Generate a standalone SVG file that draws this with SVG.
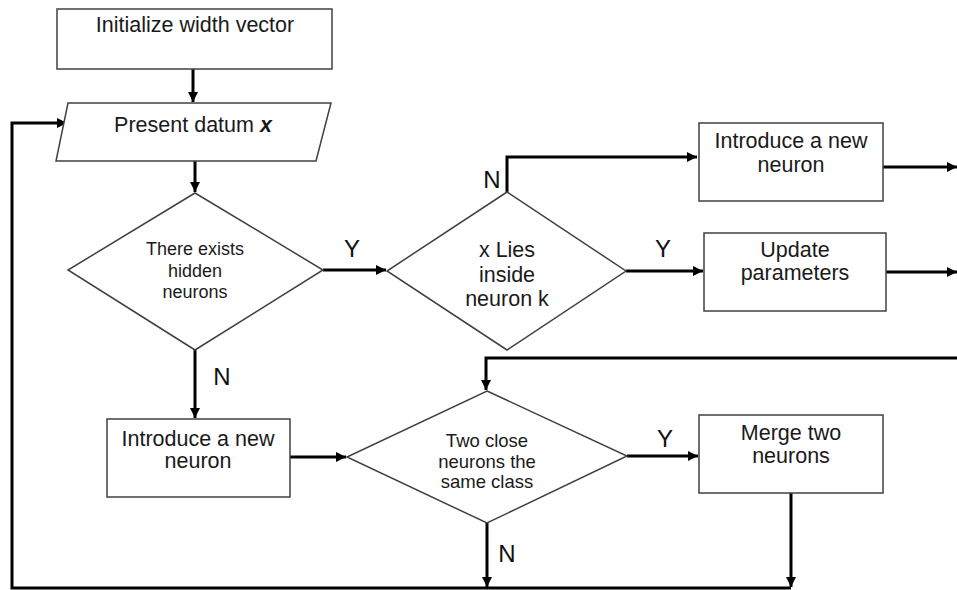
<svg xmlns="http://www.w3.org/2000/svg" width="957" height="590" viewBox="0 0 957 590">
  <style>
    .shape { fill: #ffffff; stroke: #404040; stroke-width: 1.5; }
    .txt { font-family: "Liberation Sans", Arial, sans-serif; fill: #1a1a1a; text-anchor: middle; }
    .box { font-size: 21.5px; }
    .dia1 { font-size: 18px; }
    .dia3 { font-size: 18.5px; }
    .lbl { font-family: "Liberation Sans", Arial, sans-serif; font-size: 24px; fill: #111; text-anchor: middle; }
    .conn { fill: none; stroke: #000; stroke-width: 3; }
  </style>
  <defs>
    <marker id="arrow" viewBox="0 0 10 10" refX="10" refY="5" markerWidth="11" markerHeight="10" markerUnits="userSpaceOnUse" orient="auto">
      <path d="M0,0 L10,5 L0,10 z" fill="#000"/>
    </marker>
  </defs>
  <rect width="957" height="590" fill="#ffffff"/>

  <g id="connectors">
    <path class="conn" d="M193,69 V102" marker-end="url(#arrow)"/>
    <path class="conn" d="M195,161 V192" marker-end="url(#arrow)"/>
    <path class="conn" d="M323,270 H386" marker-end="url(#arrow)"/>
    <path class="conn" d="M507,192 V157 H697" marker-end="url(#arrow)"/>
    <path class="conn" d="M626,271 H703" marker-end="url(#arrow)"/>
    <path class="conn" d="M883,167 H957" marker-end="url(#arrow)"/>
    <path class="conn" d="M886,272 H957" marker-end="url(#arrow)"/>
    <path class="conn" d="M957,358 H486 V390" marker-end="url(#arrow)"/>
    <path class="conn" d="M195,350 V418" marker-end="url(#arrow)"/>
    <path class="conn" d="M290,457 H346" marker-end="url(#arrow)"/>
    <path class="conn" d="M627,456 H698" marker-end="url(#arrow)"/>
    <path class="conn" d="M487,523 V587" marker-end="url(#arrow)"/>
    <path class="conn" d="M791,493 V587" marker-end="url(#arrow)"/>
    <path class="conn" d="M791,588 H12 V123 H67" marker-end="url(#arrow)"/>
  </g>

  <g id="init">
    <rect class="shape" x="57" y="9" width="275" height="60"/>
    <text class="txt box" x="195" y="32">Initialize width vector</text>
  </g>

  <g id="present">
    <polygon class="shape" points="68,103 331,103 316,161 56,161"/>
    <text class="txt box" x="193" y="132">Present datum <tspan font-weight="bold" font-style="italic">x</tspan></text>
  </g>

  <g id="hidden-check">
    <polygon class="shape" points="195,193 323,270 195,350 68,270"/>
    <text class="txt dia1" x="195" y="255">There exists</text>
    <text class="txt dia1" x="195" y="277">hidden</text>
    <text class="txt dia1" x="195" y="298">neurons</text>
  </g>

  <g id="inside-check">
    <polygon class="shape" points="507,192 626,271 507,350 387,271"/>
    <text class="txt box" x="507" y="257">x Lies</text>
    <text class="txt box" x="507" y="282">inside</text>
    <text class="txt box" x="507" y="306">neuron k</text>
  </g>

  <g id="new-neuron-top">
    <rect class="shape" x="699" y="123" width="184" height="78"/>
    <text class="txt box" x="791" y="148">Introduce a new</text>
    <text class="txt box" x="791" y="172">neuron</text>
  </g>

  <g id="update">
    <rect class="shape" x="704" y="233" width="182" height="78"/>
    <text class="txt box" x="795" y="257">Update</text>
    <text class="txt box" x="795" y="280">parameters</text>
  </g>

  <g id="new-neuron-bottom">
    <rect class="shape" x="107" y="419" width="183" height="78"/>
    <text class="txt box" x="198" y="446">Introduce a new</text>
    <text class="txt box" x="198" y="468">neuron</text>
  </g>

  <g id="close-check">
    <polygon class="shape" points="487,391 627,456 487,523 347,457"/>
    <text class="txt dia3" x="487" y="447">Two close</text>
    <text class="txt dia3" x="487" y="468">neurons the</text>
    <text class="txt dia3" x="487" y="488">same class</text>
  </g>

  <g id="merge">
    <rect class="shape" x="699" y="415" width="184" height="78"/>
    <text class="txt box" x="791" y="440">Merge two</text>
    <text class="txt box" x="791" y="463">neurons</text>
  </g>

  <g id="labels">
    <text class="lbl" x="352" y="257">Y</text>
    <text class="lbl" x="663" y="257">Y</text>
    <text class="lbl" x="492" y="188">N</text>
    <text class="lbl" x="222" y="385">N</text>
    <text class="lbl" x="665" y="447">Y</text>
    <text class="lbl" x="507" y="562">N</text>
  </g>
</svg>
